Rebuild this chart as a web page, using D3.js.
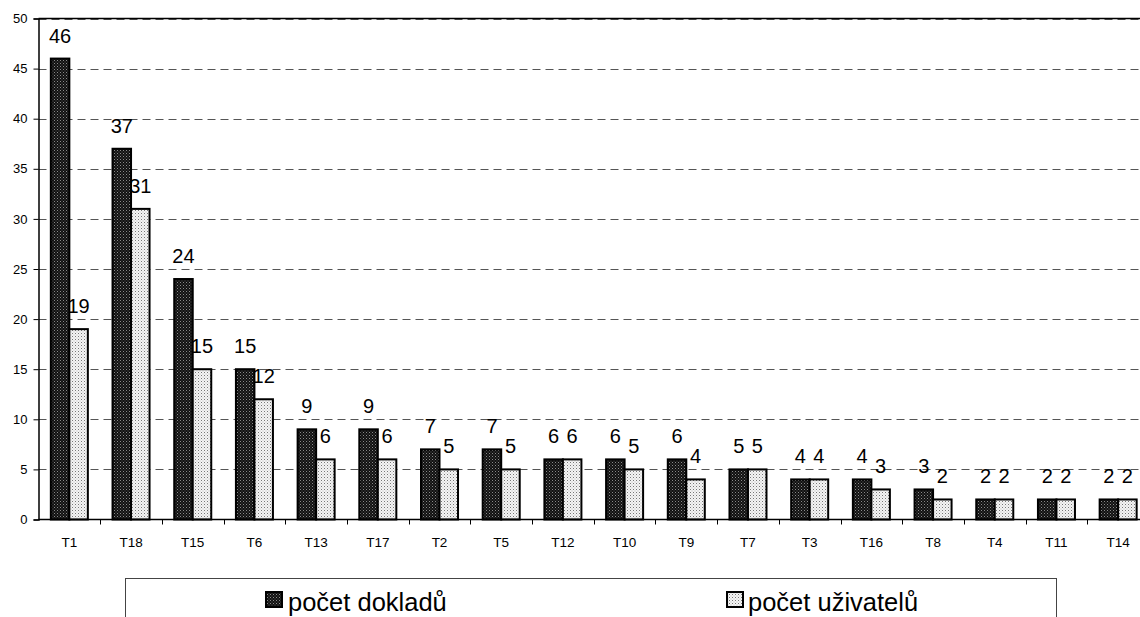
<!DOCTYPE html>
<html>
<head>
<meta charset="utf-8">
<script src="https://cdn.jsdelivr.net/npm/d3@7"></script>
<style>
  html, body { margin: 0; padding: 0; background: #fff; }
  svg { display: block; font-family: "Liberation Sans", Arial, sans-serif; }
</style>
</head>
<body>
<svg id="chart" width="1140" height="617"></svg>
<script>
// Categories and the two series
const categories = ["T1","T18","T15","T6","T13","T17","T2","T5","T12","T10","T9","T7","T3","T16","T8","T4","T11","T14"];
const dokladu   = [46, 37, 24, 15, 9, 9, 7, 7, 6, 6, 6, 5, 4, 4, 3, 2, 2, 2];
const uzivatelu = [19, 31, 15, 12, 6, 6, 5, 5, 6, 5, 4, 5, 4, 3, 2, 2, 2, 2];
const seriesNames = ["počet dokladů", "počet uživatelů"];
const yTicks = [0, 5, 10, 15, 20, 25, 30, 35, 40, 45, 50];

const svg = d3.select("#chart");
const plotL = 38.5, plotR = 1149, plotT = 18.5, plotB = 519.5;

// Fill patterns: dark dotted and light dotted
const defs = svg.append("defs");
const pDark = defs.append("pattern").attr("id", "pDark")
  .attr("patternUnits", "userSpaceOnUse").attr("width", 3).attr("height", 3);
pDark.append("rect").attr("width", 3).attr("height", 3).attr("fill", "#111");
pDark.append("rect").attr("x", 0).attr("y", 0).attr("width", 1).attr("height", 1).attr("fill", "#8a8a8a");
pDark.append("rect").attr("x", 1.5).attr("y", 1.5).attr("width", 1).attr("height", 1).attr("fill", "#5a5a5a");

const pLight = defs.append("pattern").attr("id", "pLight")
  .attr("patternUnits", "userSpaceOnUse").attr("width", 3).attr("height", 3);
pLight.append("rect").attr("width", 3).attr("height", 3).attr("fill", "#f4f4f4");
pLight.append("rect").attr("x", 0).attr("y", 0).attr("width", 1).attr("height", 1).attr("fill", "#777");
pLight.append("rect").attr("x", 1.5).attr("y", 1.5).attr("width", 1).attr("height", 1).attr("fill", "#bbb");

// Scales
const x = d3.scaleBand().domain(categories).range([plotL, plotR]).padding(0);
const bw = x.bandwidth();
const x1 = d3.scaleBand().domain([0, 1]).range([bw * 0.2, bw * 0.8]).padding(0);
const y = d3.scaleLinear().domain([0, 50]).range([plotB, plotT]);

// Dashed gridlines
svg.append("g").selectAll("line").data(yTicks.filter(t => t > 0)).join("line")
  .attr("x1", plotL).attr("x2", plotR)
  .attr("y1", d => Math.round(y(d)) + 0.5).attr("y2", d => Math.round(y(d)) + 0.5)
  .attr("stroke", "#555").attr("stroke-width", 1).attr("stroke-dasharray", "8,5");

// Top frame line
svg.append("line").attr("x1", plotL).attr("x2", plotR).attr("y1", plotT).attr("y2", plotT)
  .attr("stroke", "#000").attr("stroke-width", 1.5);

// Value labels (drawn under the bars)
const rows = categories.map((c, i) => ({ c, v: [dokladu[i], uzivatelu[i]] }));
const labels = svg.append("g").attr("font-size", 20).attr("text-anchor", "middle").attr("fill", "#000");
rows.forEach(r => {
  r.v.forEach((v, s) => {
    labels.append("text")
      .attr("x", x(r.c) + x1(s) + x1.bandwidth() / 2)
      .attr("y", y(v) - 16)
      .text(v);
  });
});

// Bars
const barG = svg.append("g");
rows.forEach(r => {
  r.v.forEach((v, s) => {
    barG.append("rect")
      .attr("x", x(r.c) + x1(s))
      .attr("y", y(v))
      .attr("width", x1.bandwidth())
      .attr("height", y(0) - y(v))
      .attr("fill", s === 0 ? "url(#pDark)" : "url(#pLight)")
      .attr("stroke", "#000").attr("stroke-width", 2);
  });
});

// Y axis
const yAxis = d3.axisLeft(y).tickValues(yTicks).tickSize(5).tickPadding(6);
const gy = svg.append("g").attr("transform", `translate(${plotL},0)`).call(yAxis);
gy.select(".domain").attr("stroke", "#000").attr("stroke-width", 1.5);
gy.selectAll(".tick line").attr("stroke", "#000");
gy.selectAll(".tick text").attr("font-size", 13).attr("fill", "#000")
  .attr("font-family", "Liberation Sans, Arial, sans-serif");

// X axis: ticks at band boundaries, labels centred in each band
const gx = svg.append("g");
gx.append("line").attr("x1", plotL).attr("x2", plotR).attr("y1", plotB).attr("y2", plotB)
  .attr("stroke", "#000").attr("stroke-width", 1.5);
gx.selectAll("line.tk").data(categories).join("line").attr("class", "tk")
  .attr("x1", d => Math.round(x(d) + bw) + 0.5).attr("x2", d => Math.round(x(d) + bw) + 0.5)
  .attr("y1", plotB).attr("y2", plotB + 5).attr("stroke", "#000");
gx.selectAll("text").data(categories).join("text")
  .attr("x", d => x(d) + bw / 2).attr("y", 546.5)
  .attr("text-anchor", "middle").attr("font-size", 13.5).attr("fill", "#000")
  .text(d => d);

// Legend
const lg = svg.append("g");
lg.append("rect").attr("x", 125.5).attr("y", 578.5).attr("width", 931).attr("height", 80)
  .attr("fill", "none").attr("stroke", "#444").attr("stroke-width", 1);
const legendItems = [
  { name: seriesNames[0], fill: "url(#pDark)", sx: 266, tx: 288 },
  { name: seriesNames[1], fill: "url(#pLight)", sx: 727, tx: 748 }
];
legendItems.forEach(it => {
  lg.append("rect").attr("x", it.sx).attr("y", 592).attr("width", 16).attr("height", 15)
    .attr("fill", it.fill).attr("stroke", "#000").attr("stroke-width", 2);
  lg.append("text").attr("x", it.tx).attr("y", 611).attr("font-size", 25.5).attr("fill", "#000")
    .text(it.name);
});
</script>
</body>
</html>
